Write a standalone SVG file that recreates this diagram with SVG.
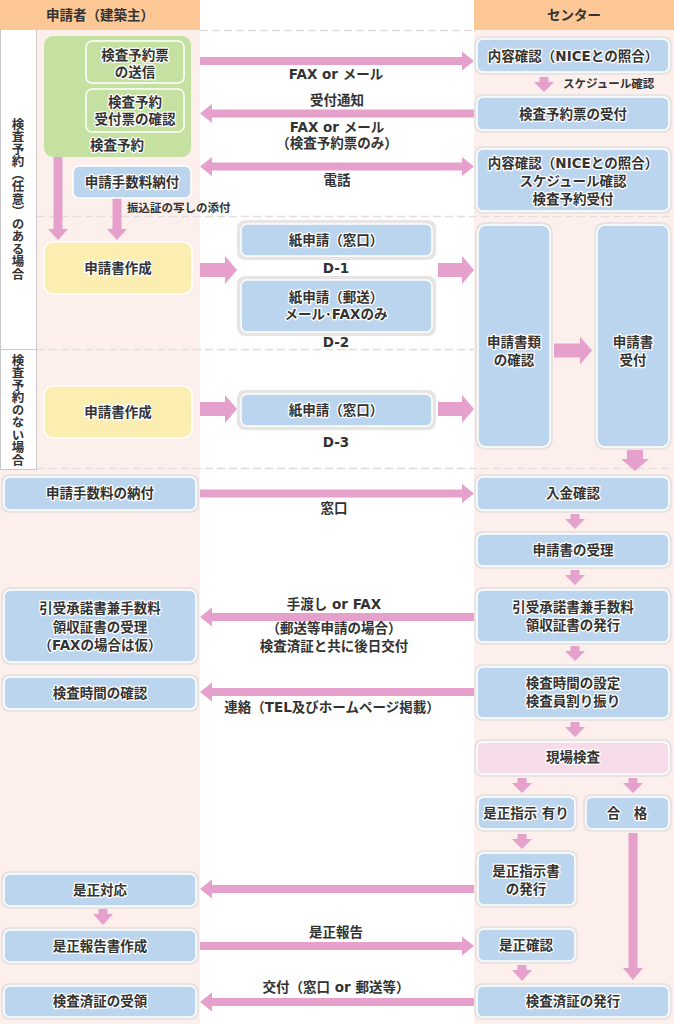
<svg xmlns="http://www.w3.org/2000/svg" width="674" height="1024" viewBox="0 0 674 1024">
<style>
text{font-family:"DejaVu Sans","Noto Sans CJK JP",sans-serif;font-weight:bold;fill:#333;font-size:13.5px;text-anchor:middle;dominant-baseline:central;}
.h{stroke:#fff;stroke-width:2.5;stroke-linejoin:round;paint-order:stroke;}
.xs{font-size:11.5px;text-anchor:start;}
.v{writing-mode:vertical-rl;font-size:12.5px;font-family:"Noto Sans CJK JP",sans-serif;}
.ring{fill:#e8e4e4;}
.blue{fill:#bbd5ef;stroke:#fff;stroke-width:1.5;}
.pinkbox{fill:#f6dce9;stroke:#fff;stroke-width:1.5;}
.green{fill:#c4e1a1;}
.ginner{fill:#c4e1a1;stroke:#fff;stroke-width:1.5;}
.yellow{fill:#fcedb1;stroke:#fff;stroke-width:1.5;}
.arr{fill:#e5a0cb;}
.dash{stroke:#e3dede;stroke-width:1.5;stroke-dasharray:8 4;fill:none;}
</style>
<!-- backgrounds -->
<rect x="0" y="0" width="674" height="1024" fill="#fff"/>
<rect x="37" y="30" width="163" height="440" fill="#fdf0ec"/>
<rect x="0" y="470" width="200" height="554" fill="#fdf0ec"/>
<rect x="474" y="30" width="200" height="994" fill="#fdf0ec"/>
<rect x="0" y="0" width="200" height="30" fill="#fdc896"/>
<rect x="474" y="0" width="200" height="30" fill="#fdc896"/>
<text x="100" y="15">申請者（建築主）</text>
<text x="574" y="15">センター</text>
<!-- section label column -->
<g id="sections" fill="none" stroke="#c8c8c8" stroke-width="1">
<line x1="36.5" y1="30" x2="36.5" y2="470"/>
<line x1="0.5" y1="30" x2="0.5" y2="470"/>
<line x1="0" y1="349.5" x2="37" y2="349.5"/>
<line x1="0" y1="469.5" x2="37" y2="469.5"/>
</g>
<text class="v" x="18" y="199">検査予約（任意）のある場合</text>
<text class="v" x="18" y="410">検査予約のない場合</text>
<!-- dashed separators -->
<g id="separators">
<line class="dash" x1="200" y1="30.5" x2="474" y2="30.5"/>
<line class="dash" x1="37" y1="216.5" x2="674" y2="216.5"/>
<line class="dash" x1="37" y1="349.5" x2="474" y2="349.5"/>
<line class="dash" x1="37" y1="468.5" x2="674" y2="468.5"/>
</g>
<!-- connectors -->
<g id="connectors">
<path class="arr" d="M200,57 H462 V51.5 L474,61 L462,70.5 V65 H200 Z"/>
<path class="arr" d="M474,109.5 H212 V104 L200,113.5 L212,123 V117.5 H474 Z"/>
<path class="arr" d="M212,162.5 H462 V157 L474,166.5 L462,176 V170.5 H212 V176 L200,166.5 L212,157 Z"/>
<path class="arr" d="M53.5,157 V229 H48 L58,240 L68,229 H62.5 V157 Z"/>
<path class="arr" d="M112.5,198 V229 H107 L117,240 L127,229 H121.5 V198 Z"/>
<path class="arr" d="M539.5,77 V82 H534 L544,92 L554,82 H548.5 V77 Z"/>
<path class="arr" d="M200,263 H225 V256 L237,270 L225,284 V277 H200 Z"/>
<path class="arr" d="M200,402 H225 V395 L237,409 L225,423 V416 H200 Z"/>
<path class="arr" d="M438,263 H462 V256 L474,270 L462,284 V277 H438 Z"/>
<path class="arr" d="M438,402 H462 V395 L474,409 L462,423 V416 H438 Z"/>
<path class="arr" d="M554,343.5 H580 V336.5 L592,350.5 L580,364.5 V357.5 H554 Z"/>
<path class="arr" d="M627,450 V459 H621 L635,471 L649,459 H643 V450 Z"/>
<path class="arr" d="M200,489.5 H462 V484 L474,493.5 L462,503 V497.5 H200 Z"/>
<path class="arr" d="M570.5,514 V519 H565 L575,529 L585,519 H579.5 V514 Z"/>
<path class="arr" d="M570.5,570 V575 H565 L575,585 L585,575 H579.5 V570 Z"/>
<path class="arr" d="M474,613 H212 V607.5 L200,617 L212,626.5 V621 H474 Z"/>
<path class="arr" d="M570.5,646 V651 H565 L575,661 L585,651 H579.5 V646 Z"/>
<path class="arr" d="M474,688 H212 V682.5 L200,692 L212,701.5 V696 H474 Z"/>
<path class="arr" d="M570.5,722 V727 H565 L575,737 L585,727 H579.5 V722 Z"/>
<path class="arr" d="M517.5,778 V783 H512 L522,793 L532,783 H526.5 V778 Z"/>
<path class="arr" d="M628.5,778 V783 H623 L633,793 L643,783 H637.5 V778 Z"/>
<path class="arr" d="M517.5,834 V839 H512 L522,849 L532,839 H526.5 V834 Z"/>
<path class="arr" d="M628.5,833 V968 H623 L633,980 L643,968 H637.5 V833 Z"/>
<path class="arr" d="M474,885 H212 V879.5 L200,889 L212,898.5 V893 H474 Z"/>
<path class="arr" d="M98.5,909 V914 H93 L103,925 L113,914 H107.5 V909 Z"/>
<path class="arr" d="M200,942 H462 V936.5 L474,946 L462,955.5 V950 H200 Z"/>
<path class="arr" d="M517.5,965 V970 H512 L522,981 L532,970 H526.5 V965 Z"/>
<path class="arr" d="M474,998 H212 V992.5 L200,1002 L212,1011.5 V1006 H474 Z"/>
</g>
<!-- connector labels -->
<g id="labels">
<text x="336" y="74">FAX or メール</text>
<text x="337" y="100">受付通知</text>
<text x="337" y="127">FAX or メール</text>
<text x="337" y="143">（検査予約票のみ）</text>
<text x="337" y="180">電話</text>
<text class="xs" x="127" y="208">振込証の写しの添付</text>
<text class="xs" x="563" y="84">スケジュール確認</text>
<text x="336" y="268">D-1</text>
<text x="336" y="342">D-2</text>
<text x="336" y="442">D-3</text>
<text x="334" y="508">窓口</text>
<text x="334" y="604">手渡し or FAX</text>
<text x="334" y="628">（郵送等申請の場合）</text>
<text x="334" y="646">検査済証と共に後日交付</text>
<text x="332" y="707">連絡（TEL及びホームページ掲載）</text>
<text x="336" y="932">是正報告</text>
<text x="336" y="987">交付（窓口 or 郵送等）</text>
</g>
<!-- nodes -->
<g id="n-yoyaku">
<rect class="green" x="44" y="36" width="147" height="121" rx="9"/>
<text class="h" x="117" y="145">検査予約</text>
</g>
<g id="n-soshin">
<rect class="ginner" x="86" y="41" width="98" height="42" rx="6"/>
<text class="h" x="135" y="55">検査予約票</text>
<text class="h" x="135" y="72">の送信</text>
</g>
<g id="n-kakunin">
<rect class="ginner" x="86" y="89" width="98" height="43" rx="6"/>
<text class="h" x="135" y="102">検査予約</text>
<text class="h" x="135" y="119">受付票の確認</text>
</g>
<g id="n-nofu1">
<rect class="blue" x="73" y="166" width="118" height="32" rx="6"/>
<text class="h" x="132" y="182">申請手数料納付</text>
</g>
<g id="n-c-naiyo">
<rect class="ring" x="474" y="36" width="198" height="39" rx="8"/>
<rect class="blue" x="477" y="39" width="192" height="33" rx="6"/>
<text class="h" x="573" y="56">内容確認（NICEとの照合）</text>
</g>
<g id="n-c-uketsuke">
<rect class="ring" x="474" y="94" width="198" height="39" rx="8"/>
<rect class="blue" x="477" y="97" width="192" height="33" rx="6"/>
<text class="h" x="573" y="114">検査予約票の受付</text>
</g>
<g id="n-c-3">
<rect class="ring" x="474" y="146" width="198" height="68" rx="8"/>
<rect class="blue" x="477" y="149" width="192" height="62" rx="6"/>
<text class="h" x="573" y="163">内容確認（NICEとの照合）</text>
<text class="h" x="573" y="181">スケジュール確認</text>
<text class="h" x="573" y="199">検査予約受付</text>
</g>
<g id="n-sakusei1">
<rect class="yellow" x="44" y="242" width="148" height="52" rx="9"/>
<text class="h" x="118" y="268">申請書作成</text>
</g>
<g id="n-d1">
<rect class="ring" x="237" y="220" width="199" height="40" rx="8"/>
<rect class="blue" x="241" y="224" width="191" height="32" rx="6"/>
<text class="h" x="336" y="240">紙申請（窓口）</text>
</g>
<g id="n-d2">
<rect class="ring" x="237" y="276" width="199" height="60" rx="8"/>
<rect class="blue" x="241" y="280" width="191" height="52" rx="6"/>
<text class="h" x="336" y="297">紙申請（郵送）</text>
<text class="h" x="336" y="314">メール･FAXのみ</text>
</g>
<g id="n-sakusei2">
<rect class="yellow" x="44" y="386" width="148" height="52" rx="9"/>
<text class="h" x="118" y="412">申請書作成</text>
</g>
<g id="n-d3">
<rect class="ring" x="237" y="390" width="199" height="40" rx="8"/>
<rect class="blue" x="241" y="394" width="191" height="32" rx="6"/>
<text class="h" x="336" y="410">紙申請（窓口）</text>
</g>
<g id="n-shorui">
<rect class="ring" x="475" y="222" width="78" height="228" rx="10"/>
<rect class="blue" x="478" y="225" width="72" height="222" rx="8"/>
<text class="h" x="514" y="342">申請書類</text>
<text class="h" x="514" y="360">の確認</text>
</g>
<g id="n-juri1">
<rect class="ring" x="594" y="222" width="78" height="228" rx="10"/>
<rect class="blue" x="597" y="225" width="72" height="222" rx="8"/>
<text class="h" x="633" y="342">申請書</text>
<text class="h" x="633" y="360">受付</text>
</g>
<g id="n-nofu2">
<rect class="ring" x="1" y="474" width="198" height="39" rx="8"/>
<rect class="blue" x="4" y="477" width="192" height="33" rx="6"/>
<text class="h" x="100" y="493">申請手数料の納付</text>
</g>
<g id="n-nyukin">
<rect class="ring" x="474" y="474" width="198" height="39" rx="8"/>
<rect class="blue" x="477" y="477" width="192" height="33" rx="6"/>
<text class="h" x="573" y="493">入金確認</text>
</g>
<g id="n-juri2">
<rect class="ring" x="474" y="531" width="198" height="38" rx="8"/>
<rect class="blue" x="477" y="534" width="192" height="32" rx="6"/>
<text class="h" x="573" y="550">申請書の受理</text>
</g>
<g id="n-hikiuke-l">
<rect class="ring" x="1" y="587" width="198" height="78" rx="9"/>
<rect class="blue" x="4" y="590" width="192" height="72" rx="7"/>
<text class="h" x="100" y="608">引受承諾書兼手数料</text>
<text class="h" x="100" y="627">領収証書の受理</text>
<text class="h" x="100" y="645">（FAXの場合は仮）</text>
</g>
<g id="n-hikiuke-r">
<rect class="ring" x="474" y="587" width="198" height="58" rx="8"/>
<rect class="blue" x="477" y="590" width="192" height="52" rx="6"/>
<text class="h" x="573" y="607">引受承諾書兼手数料</text>
<text class="h" x="573" y="625">領収証書の発行</text>
</g>
<g id="n-jikan-l">
<rect class="ring" x="1" y="674" width="198" height="38" rx="8"/>
<rect class="blue" x="4" y="677" width="192" height="32" rx="6"/>
<text class="h" x="100" y="693">検査時間の確認</text>
</g>
<g id="n-jikan-r">
<rect class="ring" x="474" y="664" width="198" height="57" rx="8"/>
<rect class="blue" x="477" y="667" width="192" height="51" rx="6"/>
<text class="h" x="573" y="683">検査時間の設定</text>
<text class="h" x="573" y="701">検査員割り振り</text>
</g>
<g id="n-genba">
<rect class="ring" x="474" y="739" width="198" height="38" rx="8"/>
<rect class="pinkbox" x="477" y="742" width="192" height="32" rx="6"/>
<text class="h" x="573" y="757">現場検査</text>
</g>
<g id="n-zesei-ari">
<rect class="ring" x="475" y="794" width="103" height="38" rx="8"/>
<rect class="blue" x="478" y="797" width="97" height="32" rx="6"/>
<text class="h" x="526" y="813">是正指示 有り</text>
</g>
<g id="n-gokaku">
<rect class="ring" x="583" y="794" width="89" height="38" rx="8"/>
<rect class="blue" x="586" y="797" width="83" height="32" rx="6"/>
<text class="h" x="627" y="813">合　格</text>
</g>
<g id="n-shijisho">
<rect class="ring" x="475" y="850" width="103" height="58" rx="8"/>
<rect class="blue" x="478" y="853" width="97" height="52" rx="6"/>
<text class="h" x="526" y="871">是正指示書</text>
<text class="h" x="526" y="889">の発行</text>
</g>
<g id="n-taio">
<rect class="ring" x="1" y="871" width="198" height="38" rx="8"/>
<rect class="blue" x="4" y="874" width="192" height="32" rx="6"/>
<text class="h" x="100" y="890">是正対応</text>
</g>
<g id="n-hokoku">
<rect class="ring" x="1" y="927" width="198" height="38" rx="8"/>
<rect class="blue" x="4" y="930" width="192" height="32" rx="6"/>
<text class="h" x="100" y="946">是正報告書作成</text>
</g>
<g id="n-zesei-kakunin">
<rect class="ring" x="475" y="926" width="103" height="38" rx="8"/>
<rect class="blue" x="478" y="929" width="97" height="32" rx="6"/>
<text class="h" x="526" y="945">是正確認</text>
</g>
<g id="n-juryo">
<rect class="ring" x="1" y="983" width="198" height="37" rx="8"/>
<rect class="blue" x="4" y="986" width="192" height="31" rx="6"/>
<text class="h" x="100" y="1001">検査済証の受領</text>
</g>
<g id="n-hakko">
<rect class="ring" x="474" y="983" width="198" height="37" rx="8"/>
<rect class="blue" x="477" y="986" width="192" height="31" rx="6"/>
<text class="h" x="573" y="1001">検査済証の発行</text>
</g>
</svg>
